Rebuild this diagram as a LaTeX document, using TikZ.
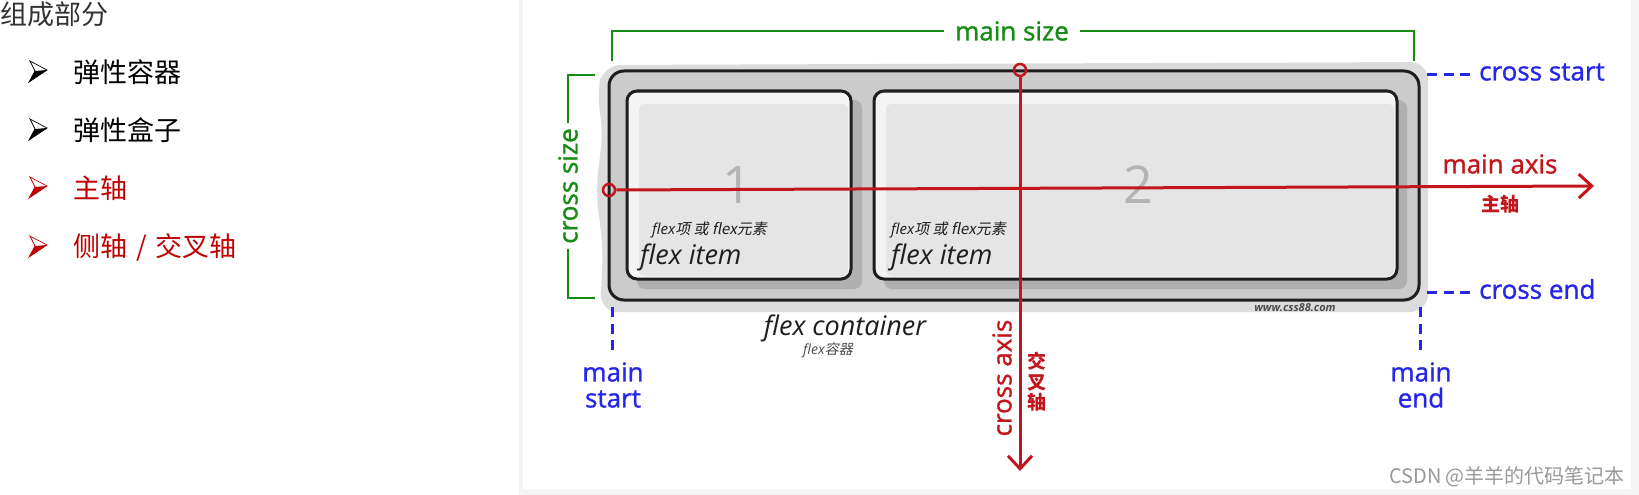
\documentclass[tikz,border=0pt]{standalone}
\usepackage{fontspec}
\usetikzlibrary{arrows.meta}
\setmainfont{Open Sans}
\newfontfamily\labelfont[FakeBold=1.2]{Open Sans}
\newfontfamily\cjk{Noto Sans CJK SC}
\newfontfamily\cjkit[FakeSlant=0.2]{Noto Sans CJK SC}
\definecolor{axisred}{HTML}{C3161C}
\definecolor{sizegreen}{HTML}{168B16}
\definecolor{edgeblue}{HTML}{2626E8}
\definecolor{listred}{HTML}{C00000}
\definecolor{boxgray}{HTML}{CBCBCB}
\definecolor{blobgray}{HTML}{DCDCDC}
\definecolor{itemgray}{HTML}{E5E5E5}
\definecolor{itemlight}{HTML}{F4F4F4}
\definecolor{shadegray}{HTML}{B0B0B0}
\definecolor{inkgray}{HTML}{1E1E1E}
\definecolor{digitgray}{HTML}{B4B4B4}
\tikzset{
  txt/.style={inner sep=0pt},
  listtxt/.style={inner sep=0pt, anchor=west, font=\cjk\fontsize{27}{30}\selectfont},
  sizeline/.style={sizegreen, line width=2.5pt},
  axisline/.style={axisred, line width=3pt},
  axistip/.style={-{Straight Barb[length=13pt,width=24pt]}},
  edgedash/.style={edgeblue, line width=3pt, dash pattern=on 10pt off 6.5pt},
  axdot/.style={circle, draw=axisred, line width=2.5pt, minimum size=12pt, inner sep=0pt},
  itembox/.style={draw=inkgray, line width=3pt, rounded corners=10pt, fill=itemlight},
  lbl/.style={inner sep=0pt, font=\labelfont\fontsize{26}{26}\selectfont},
}
\begin{document}
\begin{tikzpicture}[x=1pt,y=-1pt]
    \useasboundingbox (0,0) rectangle (1639,495);
    % Panel
    \fill[gray!8] (519,0) rectangle (1639,495);
    \fill[white] (523,0) rectangle (1631,489);
    % List on the left
    \node[listtxt, text=black!80] (title) at (0,14) {组成部分};
    \foreach \yc/\col in {72/black,130/black,188/listred,247/listred}{
        \draw[\col, line width=0.7pt, line join=miter] (30,\yc-11) -- (47,\yc-2) -- (29,\yc+10) -- (35,\yc-1) -- cycle;
        \fill[\col] (35,\yc-1) -- (47,\yc-2) -- (29,\yc+10) -- cycle;
    }
    \node[listtxt] (box1) at (73,72) {弹性容器};
    \node[listtxt] (box2) at (73,130) {弹性盒子};
    \node[listtxt, text=listred] (ax1) at (73,188) {主轴};
    \node[listtxt, text=listred] (ax2) at (73,247) {侧轴\hspace{9pt}/\hspace{9pt}交叉轴};
    % Container
    \fill[blobgray, rounded corners=18pt] (603,65) -- (1428,62) -- (1428,312) -- (600,312) -- (603,250) -- (596,190) -- (603,130) -- (597,95) -- cycle;
    \draw[draw=inkgray, fill=boxgray, line width=3pt, rounded corners=15pt] (609,71) rectangle (1419,300);
    % Items
    \fill[shadegray, rounded corners=8pt] (637,100) rectangle (862,289);
    \draw[itembox] (627,91) rectangle (851,279);
    \fill[itemgray, rounded corners=5pt] (639,104) rectangle (848,276);
    \fill[shadegray, rounded corners=8pt] (884,100) rectangle (1407,289);
    \draw[itembox] (874,91) rectangle (1397,279);
    \fill[itemgray, rounded corners=5pt] (886,104) rectangle (1394,276);
    \node[txt, text=digitgray, font=\fontsize{52}{52}\selectfont] (one) at (737,185) {1};
    \node[txt, text=digitgray, font=\fontsize{52}{52}\selectfont] (two) at (1138,185) {2};
    \node[txt, anchor=west, text=inkgray, font=\fontsize{15}{15}\selectfont] (sub1) at (652,230) {\itshape flex\cjkit 项 或 \itshape flex\cjkit 元素};
    \node[txt, anchor=west, text=inkgray, font=\itshape\fontsize{27}{27}\selectfont] (item1) at (640,257) {flex item};
    \node[txt, anchor=west, text=inkgray, font=\fontsize{15}{15}\selectfont] (sub2) at (891,230) {\itshape flex\cjkit 项 或 \itshape flex\cjkit 元素};
    \node[txt, anchor=west, text=inkgray, font=\itshape\fontsize{27}{27}\selectfont] (item2) at (891,257) {flex item};
    \node[txt, text=inkgray, font=\itshape\fontsize{27}{27}\selectfont] (cont) at (845,328) {flex container};
    \node[txt, text=black!70, font=\fontsize{14}{14}\selectfont] (contzh) at (828,350) {\itshape flex\cjkit 容器};
    \node[txt, text=black!70, font=\bfseries\itshape\fontsize{11}{11}\selectfont] (site) at (1295,308) {www.css88.com};
    % Sizes
    \node[lbl, text=sizegreen, inner xsep=11pt] (msize) at (1012,31) {main size};
    \coordinate (msl) at (612,61);
    \coordinate (msr) at (1414,61);
    \draw[sizeline] (msl) |- (msize.west);
    \draw[sizeline] (msize.east) -| (msr);
    \node[lbl, text=sizegreen, rotate=90, inner xsep=5pt] (csize) at (568,186) {cross size};
    \coordinate (cst) at (595,75);
    \coordinate (csb) at (595,298);
    \draw[sizeline] (cst) -| (csize.east);
    \draw[sizeline] (csb) -| (csize.west);
    % Axes
    \node[axdot] (mdot) at (609,190) {};
    \coordinate (mtip) at (1594,186);
    \draw[axisline, axistip] (mdot) -- (mtip);
    \node[lbl, text=axisred] (maxis) at (1500,164) {main axis};
    \node[txt, text=axisred, font=\cjk\bfseries\fontsize{19}{19}\selectfont] (maxiszh) at (1500,204) {主轴};
    \node[axdot] (cdot) at (1020,70) {};
    \coordinate (ctip) at (1020,471);
    \draw[axisline, axistip] (cdot) -- (ctip);
    \node[lbl, text=axisred, rotate=90] (caxis) at (1002,378) {cross axis};
    \node[txt, text=axisred, align=center, font=\cjk\bfseries\fontsize{19}{20.5}\selectfont] (caxiszh) at (1037,382) {交\\叉\\轴};
    % Start and end
    \node[lbl, text=edgeblue, anchor=west] (cstart) at (1479,72) {cross start};
    \node[lbl, text=edgeblue, anchor=west] (cend) at (1479,289) {cross end};
    \coordinate (csd1) at (1427,75);
    \coordinate (csd2) at (1472,75);
    \coordinate (ced1) at (1427,292);
    \coordinate (ced2) at (1472,292);
    \draw[edgedash] (csd1) -- (csd2);
    \draw[edgedash] (ced1) -- (ced2);
    \node[lbl, text=edgeblue, align=center] (mstart) at (613,385) {main\\start};
    \node[lbl, text=edgeblue, align=center] (mend) at (1421,385) {main\\end};
    \coordinate (msd1) at (612,307);
    \coordinate (msd2) at (612,350);
    \coordinate (med1) at (1420,307);
    \coordinate (med2) at (1420,350);
    \draw[edgedash] (msd1) -- (msd2);
    \draw[edgedash] (med1) -- (med2);
    % Watermark
    \node[txt, text=black!40, font=\cjk\fontsize{20}{20}\selectfont] (mark) at (1507,477) {CSDN @羊羊的代码笔记本};
\end{tikzpicture}
\end{document}
